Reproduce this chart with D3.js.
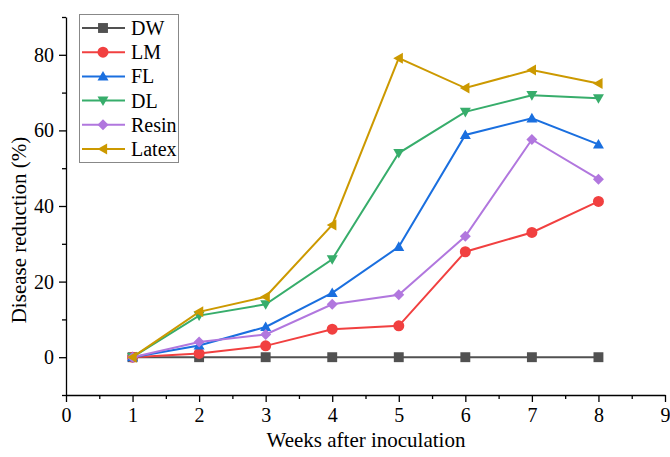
<!DOCTYPE html>
<html lang="en">
<head>
<meta charset="UTF-8">
<title>Disease reduction</title>
<style>
  body { margin: 0; background: #fff; }
  svg { display: block; font-family: "Liberation Serif", "Times New Roman", serif; }
  .axis path, .axis line { stroke: #000; stroke-width: 1.3; }
</style>
</head>
<body>
<svg width="670" height="457"></svg>
<script src="https://d3js.org/d3.v7.min.js"></script>
<script>
const weeks = [1, 2, 3, 4, 5, 6, 7, 8];
const seriesNames = ["DW", "LM", "FL", "DL", "Resin", "Latex"];
const dw    = [0, 0, 0, 0, 0, 0, 0, 0];
const lm    = [0, 1.0, 3.0, 7.4, 8.3, 27.9, 33.0, 41.2];
const fl    = [0, 3.1, 8.0, 17.0, 29.2, 58.8, 63.2, 56.3];
const dlv   = [0, 11.0, 14.0, 25.9, 54.0, 64.9, 69.3, 68.5];
const resin = [0, 4.0, 6.0, 14.0, 16.5, 32.0, 57.6, 47.1];
const latex = [0, 12.0, 16.0, 35.0, 79.1, 71.2, 76.0, 72.4];
const xTicks = [0, 1, 2, 3, 4, 5, 6, 7, 8, 9];
const yTicks = [0, 20, 40, 60, 80];

const colors = ["#515151", "#F14040", "#1A6FDF", "#37AD6B", "#B177DE", "#CC9900"];
const shapes = ["square", "circle", "up", "down", "diamond", "left"];
const values = [dw, lm, fl, dlv, resin, latex];
const serif = "'Liberation Serif', 'Times New Roman', serif";

const svg = d3.select("svg");
const x = d3.scaleLinear().domain([0, 9]).range([66, 665]);
const y = d3.scaleLinear().domain([-10, 90]).range([395, 17]);

// marker paths centered on 0,0
function marker(shape, s) {
  const h = s / 2;
  switch (shape) {
    case "square": return `M${-h * 0.9},${-h * 0.9}h${s * 0.9}v${s * 0.9}h${-s * 0.9}z`;
    case "circle": return d3.symbol(d3.symbolCircle, Math.PI * h * h)();
    case "up": return `M0,${-h}L${h},${h * 0.75}L${-h},${h * 0.75}z`;
    case "down": return `M0,${h}L${h},${-h * 0.75}L${-h},${-h * 0.75}z`;
    case "diamond": return `M0,${-h}L${h},0L0,${h}L${-h},0z`;
    case "left": return `M${-h},0L${h * 0.75},${-h}L${h * 0.75},${h}z`;
  }
}

function styleTicks(g) {
  g.attr("font-family", serif).attr("font-size", 20);
  g.selectAll("text").attr("fill", "#000")
    .style("font-family", serif).style("font-size", "20px");
}

// axes
const xMinor = d3.range(0.5, 9, 1);
svg.append("g").attr("class", "axis")
  .attr("transform", "translate(0,395)")
  .call(d3.axisBottom(x).tickValues(xMinor).tickSize(4).tickFormat(""))
  .call(g => g.select(".domain").remove());
svg.append("g").attr("class", "axis")
  .attr("transform", "translate(0,395)")
  .call(d3.axisBottom(x).tickValues(xTicks).tickSize(7).tickSizeOuter(0).tickPadding(6).tickFormat(d3.format("d")))
  .call(styleTicks);

const yMinor = [-10, 10, 30, 50, 70, 90];
svg.append("g").attr("class", "axis")
  .attr("transform", "translate(66,0)")
  .call(d3.axisLeft(y).tickValues(yMinor).tickSize(4).tickFormat(""))
  .call(g => g.select(".domain").remove());
svg.append("g").attr("class", "axis")
  .attr("transform", "translate(66,0)")
  .call(d3.axisLeft(y).tickValues(yTicks).tickSize(7).tickSizeOuter(0).tickPadding(5).tickFormat(d3.format("d")))
  .call(styleTicks);

// axis titles
svg.append("text")
  .attr("x", 366).attr("y", 447)
  .attr("text-anchor", "middle")
  .attr("font-size", 21)
  .text("Weeks after inoculation");
svg.append("text")
  .attr("transform", "translate(26,230) rotate(-90)")
  .attr("text-anchor", "middle")
  .attr("font-size", 21)
  .text("Disease reduction (%)");

// series
const line = d3.line().x((d, i) => x(weeks[i])).y(d => y(d));
values.forEach((vals, k) => {
  const g = svg.append("g");
  g.append("path")
    .attr("d", line(vals))
    .attr("fill", "none")
    .attr("stroke", colors[k])
    .attr("stroke-width", 2);
  g.selectAll("path.m").data(vals).enter().append("path")
    .attr("class", "m")
    .attr("d", marker(shapes[k], 11))
    .attr("transform", (d, i) => `translate(${x(weeks[i])},${y(d)})`)
    .attr("fill", colors[k]);
});

// legend
const legend = svg.append("g");
legend.append("rect")
  .attr("x", 79.5).attr("y", 14.5).attr("width", 99).attr("height", 148)
  .attr("fill", "#fff").attr("stroke", "#888").attr("stroke-width", 1);
seriesNames.forEach((name, k) => {
  const ly = 28 + k * 24.2;
  legend.append("line")
    .attr("x1", 82).attr("x2", 125).attr("y1", ly).attr("y2", ly)
    .attr("stroke", colors[k]).attr("stroke-width", 2);
  legend.append("path")
    .attr("d", marker(shapes[k], 11))
    .attr("transform", `translate(103,${ly})`)
    .attr("fill", colors[k]);
  legend.append("text")
    .attr("x", 131).attr("y", ly + 7)
    .attr("font-size", 20)
    .text(name);
});
</script>
</body>
</html>
